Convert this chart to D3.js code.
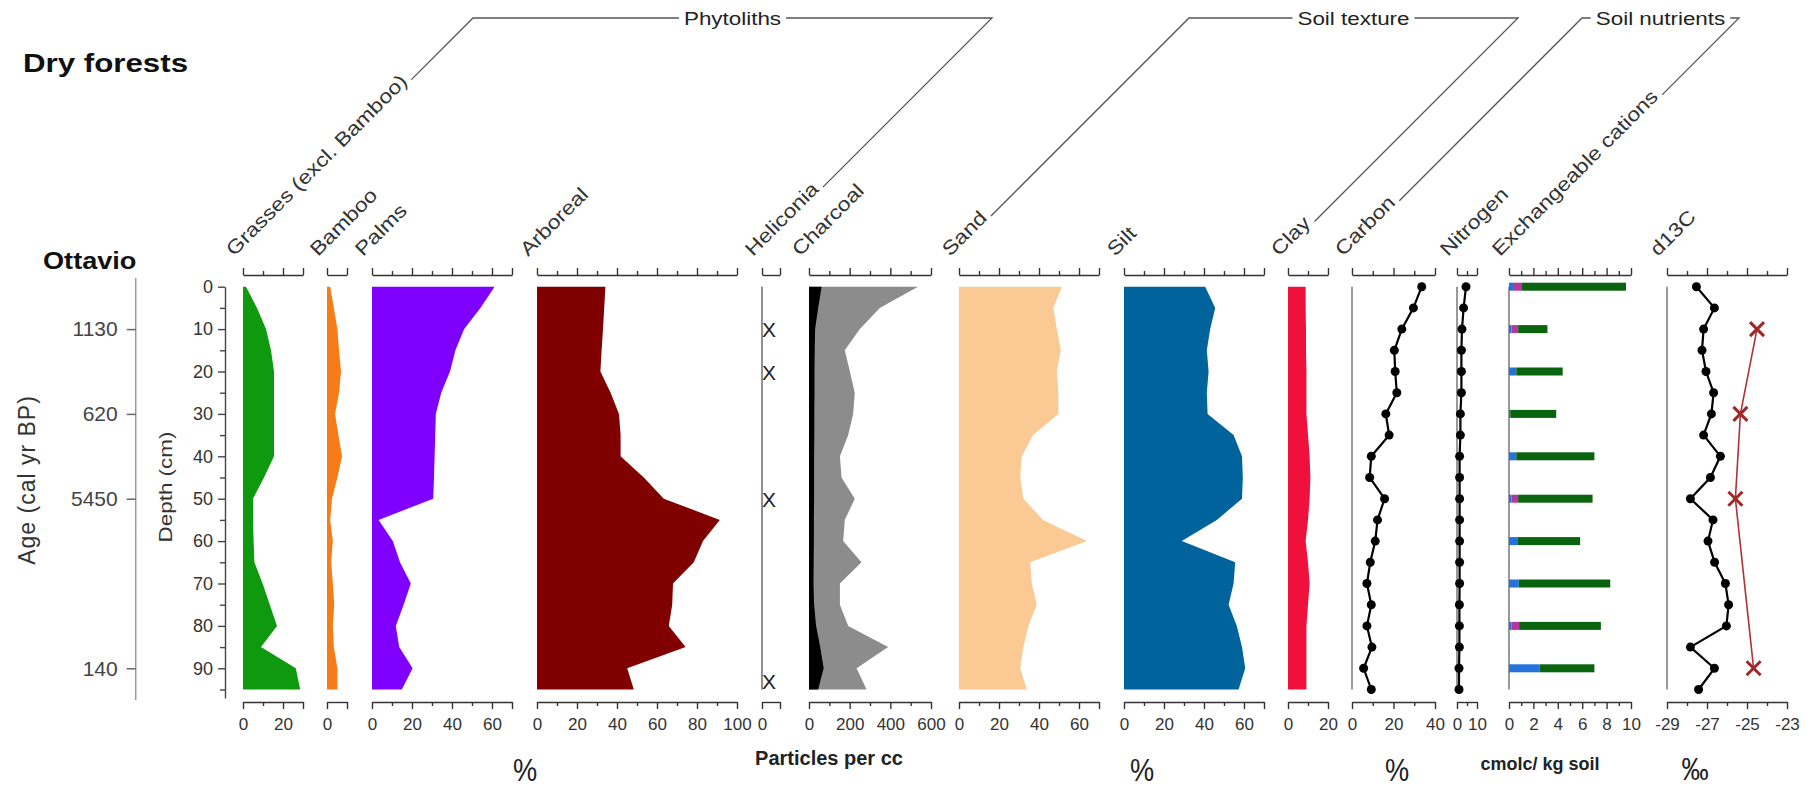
<!DOCTYPE html>
<html>
<head>
<meta charset="utf-8">
<script src="https://cdn.jsdelivr.net/npm/d3@7"></script>
<style>
  body { margin: 0; background: #fff; }
  text { font-family: "Liberation Sans", Arial, sans-serif; }
</style>
</head>
<body>
<script>
var W = 1818, H = 787;
var SX = 1.18; // the original figure is a bit wide, text is stretched

// ---- data ----
var depths = [0, 5, 10, 15, 20, 25, 30, 35, 40, 45, 50, 55, 60, 65, 70, 75, 80, 85, 90, 95];

var grasses  = [1.5, 7, 11.5, 14, 15.5, 15.5, 15.5, 15.5, 15.5, 10.5, 5, 5, 5.3, 5.7, 9.8, 13.4, 17, 9, 26.4, 28.6];
var bamboo   = [1.6, 3.4, 5.2, 6, 7, 6, 4, 5.7, 7.5, 5.2, 2.5, 1.6, 2.9, 2.1, 2.9, 3.6, 2.9, 3.4, 5.2, 5.2];
var palms    = [61.3, 54.2, 46.1, 41.7, 39, 34.6, 31.9, 31.6, 31.3, 31, 30.6, 3.3, 10.4, 14, 19.4, 15.8, 11.9, 13.6, 20.3, 14.9];
var arboreal = [34.2, 33.6, 33, 32.3, 31.7, 36.8, 41, 41.8, 41.8, 53.4, 63.4, 91.4, 83, 78.4, 68, 67.6, 65.9, 74.3, 45.1, 48.4];
var heliconiaDepths = [10, 20, 50, 93];
var charcoal      = [536, 348, 250, 176, 201, 225, 217, 193, 152, 160, 225, 176, 168, 258, 152, 152, 193, 389, 234, 283];
var charcoalLarge = [62, 45, 30, 28, 27, 27, 26, 26, 25, 25, 25, 24, 24, 23, 22, 25, 35, 55, 72, 45];
var sand = [51.4, 47.2, 48.9, 50.9, 48.9, 49.7, 49.7, 37, 31.4, 30.6, 32.2, 42, 63.9, 35.6, 36.4, 38.9, 34.7, 32.2, 30.6, 33.9];
var silt = [40.6, 45.6, 43.1, 41.4, 42.3, 41.4, 41.8, 54.8, 59, 59.4, 59, 46.4, 28.9, 55.6, 54.8, 52.3, 56.4, 59, 60.6, 57.3];
var clay = [8.8, 8.8, 9, 9, 9.2, 9.2, 9.2, 10, 10.8, 11.2, 10.8, 10, 8.8, 10, 10.8, 10, 9.2, 9.2, 9.2, 9.2];
var carbon   = [33.6, 29.6, 24.0, 20.4, 20.8, 21.6, 16.3, 17.9, 9.3, 8.5, 15.7, 12.3, 11.2, 8.8, 7.2, 9.3, 7.2, 9.6, 5.6, 9.3];
var nitrogen = [4.5, 3.3, 2.5, 2.2, 2.2, 2.2, 1.7, 1.7, 1.3, 1.3, 1.3, 1.3, 1.3, 1.3, 1.3, 1.2, 1.2, 1.2, 1.0, 1.0];
var cationDepths = [0, 10, 20, 30, 40, 50, 60, 70, 80, 90];
var cationBlue   = [0.33, 0.2, 0.6, 0.1, 0.6, 0.2, 0.68, 0.8, 0.2, 2.5];
var cationPink   = [0.68, 0.55, 0, 0, 0, 0.55, 0, 0, 0.63, 0];
var cationGreen  = [8.58, 2.4, 3.8, 3.77, 6.4, 6.1, 5.15, 7.5, 6.7, 4.5];
var d13c = [-27.53, -26.63, -27.17, -27.25, -27.05, -26.67, -26.78, -27.17, -26.33, -26.83, -27.83, -26.7, -26.95, -26.62, -26.08, -25.92, -26.03, -27.83, -26.63, -27.42];
var d13cRedDepths = [10, 30, 50, 90];
var d13cRed       = [-24.5, -25.33, -25.58, -24.67];

var ageDepths = [10, 30, 50, 90];
var ageLabels = ['1130', '620', '5450', '140'];

// ---- layout ----
var panels = [
  {id: 'grasses',   name: 'Grasses (excl. Bamboo)', x0: 243,  domain: [0, 30],   w: 60,  ticks: [0, 10, 20, 30], labels: [0, 20]},
  {id: 'bamboo',    name: 'Bamboo',    x0: 327,  domain: [0, 10],   w: 20,  ticks: [0, 10], labels: [0]},
  {id: 'palms',     name: 'Palms',     x0: 372,  domain: [0, 70],   w: 140, ticks: d3.range(0, 71, 10), labels: [0, 20, 40, 60]},
  {id: 'arboreal',  name: 'Arboreal',  x0: 537,  domain: [0, 100],  w: 200, ticks: d3.range(0, 101, 10), labels: [0, 20, 40, 60, 80, 100]},
  {id: 'heliconia', name: 'Heliconia', x0: 762,  domain: [0, 10],   w: 18,  ticks: [0, 10], labels: [0]},
  {id: 'charcoal',  name: 'Charcoal',  x0: 809,  domain: [0, 600],  w: 122, ticks: d3.range(0, 601, 100), labels: [0, 200, 400, 600]},
  {id: 'sand',      name: 'Sand',      x0: 959,  domain: [0, 70],   w: 140, ticks: d3.range(0, 71, 10), labels: [0, 20, 40, 60]},
  {id: 'silt',      name: 'Silt',      x0: 1124, domain: [0, 70],   w: 140, ticks: d3.range(0, 71, 10), labels: [0, 20, 40, 60]},
  {id: 'clay',      name: 'Clay',      x0: 1288, domain: [0, 20],   w: 40,  ticks: [0, 10, 20], labels: [0, 20]},
  {id: 'carbon',    name: 'Carbon',    x0: 1352, domain: [0, 40],   w: 83,  ticks: d3.range(0, 41, 10), labels: [0, 20, 40]},
  {id: 'nitrogen',  name: 'Nitrogen',  x0: 1457, domain: [0, 10],   w: 20,  ticks: [0, 5, 10], labels: [0, 10]},
  {id: 'cations',   name: 'Exchangeable cations', x0: 1509, domain: [0, 10], w: 122, ticks: d3.range(0, 11, 1), labels: [0, 2, 4, 6, 8, 10]},
  {id: 'd13c',      name: 'd13C',      x0: 1667, domain: [-29, -23], w: 120, ticks: d3.range(-29, -22, 1), labels: [-29, -27, -25, -23]}
];
var groups = [
  {title: 'Phytoliths', from: 'grasses', to: 'heliconia'},
  {title: 'Soil texture', from: 'sand', to: 'clay'},
  {title: 'Soil nutrients', from: 'carbon', to: 'cations'}
];
var units = [
  {text: '%', x: 525, y: 781, size: 32, bold: false},
  {text: 'Particles per cc', x: 829, y: 765, size: 20, bold: true},
  {text: '%', x: 1142, y: 781, size: 32, bold: false},
  {text: '%', x: 1397, y: 781, size: 32, bold: false},
  {text: 'cmolc/ kg soil', x: 1540, y: 770, size: 18, bold: true},
  {text: '\u2030', x: 1695, y: 780, size: 32, bold: false}
];

var topAxisY = 275, bottomAxisY = 702;
var y = d3.scaleLinear().domain([0, 95]).range([286.7, 689.5]);

var svg = d3.select('body').append('svg').attr('width', W).attr('height', H);

var byId = {};
panels.forEach(function(p) {
  p.x = d3.scaleLinear().domain(p.domain).range([p.x0, p.x0 + p.w]);
  byId[p.id] = p;
});

function rows(vals) {
  return depths.map(function(d, i) { return {d: d, v: vals[i]}; });
}

function areaPanel(p, vals, color) {
  var area = d3.area()
    .x0(p.x(0))
    .x1(function(r) { return p.x(r.v); })
    .y(function(r) { return y(r.d); });
  svg.append('path').datum(rows(vals)).attr('d', area).attr('fill', color);
}

function zeroLine(p, color, width) {
  svg.append('line')
    .attr('x1', p.x(p.domain[0])).attr('x2', p.x(p.domain[0]))
    .attr('y1', y(0)).attr('y2', y(95))
    .attr('stroke', color).attr('stroke-width', width);
}

function dotLine(p, ds, vals, color) {
  var data = ds.map(function(d, i) { return {d: d, v: vals[i]}; });
  var line = d3.line().x(function(r) { return p.x(r.v); }).y(function(r) { return y(r.d); });
  svg.append('path').datum(data).attr('d', line)
    .attr('fill', 'none').attr('stroke', color).attr('stroke-width', 2.2);
  svg.selectAll(null).data(data).enter().append('circle')
    .attr('cx', function(r) { return p.x(r.v); })
    .attr('cy', function(r) { return y(r.d); })
    .attr('r', 4.5).attr('fill', color);
}

// ---- panels ----
areaPanel(byId.grasses, grasses, '#0f990f');
areaPanel(byId.bamboo, bamboo, '#f77b16');
areaPanel(byId.palms, palms, '#7f00ff');
areaPanel(byId.arboreal, arboreal, '#800000');
areaPanel(byId.charcoal, charcoal, '#8c8c8c');
areaPanel(byId.charcoal, charcoalLarge, '#000000');
areaPanel(byId.sand, sand, '#fbc994');
areaPanel(byId.silt, silt, '#00639b');
areaPanel(byId.clay, clay, '#f0103c');

// heliconia presence marks
zeroLine(byId.heliconia, '#222', 1);
svg.selectAll(null).data(heliconiaDepths).enter().append('text')
  .attr('x', byId.heliconia.x(0))
  .attr('y', function(d) { return y(d) + 8; })
  .attr('font-size', 21).attr('fill', '#222')
  .text('X');

zeroLine(byId.carbon, '#999', 2);
dotLine(byId.carbon, depths, carbon, '#000');
zeroLine(byId.nitrogen, '#999', 2);
dotLine(byId.nitrogen, depths, nitrogen, '#000');

// exchangeable cations, stacked bars
var cp = byId.cations;
zeroLine(cp, '#999', 2);
var cationRows = cationDepths.map(function(d, i) {
  return {d: d, blue: cationBlue[i], pink: cationPink[i], green: cationGreen[i]};
});
var stack = d3.stack().keys(['blue', 'pink', 'green'])(cationRows);
var cationColors = {blue: '#2472dc', pink: '#b8379e', green: '#0a640f'};
stack.forEach(function(layer) {
  svg.selectAll(null).data(layer).enter().append('rect')
    .attr('x', function(s) { return cp.x(s[0]); })
    .attr('width', function(s) { return cp.x(s[1]) - cp.x(s[0]); })
    .attr('y', function(s) { return y(s.data.d) - 4; })
    .attr('height', 8)
    .attr('fill', cationColors[layer.key]);
});

// d13C
var dp = byId.d13c;
zeroLine(dp, '#999', 2);
dotLine(dp, depths, d13c, '#000');
var redData = d13cRedDepths.map(function(d, i) { return {d: d, v: d13cRed[i]}; });
svg.append('path').datum(redData)
  .attr('d', d3.line().x(function(r) { return dp.x(r.v); }).y(function(r) { return y(r.d); }))
  .attr('fill', 'none').attr('stroke', '#b03333').attr('stroke-width', 1.6);
svg.selectAll(null).data(redData).enter().append('path')
  .attr('d', d3.symbol().type(d3.symbolX).size(130))
  .attr('transform', function(r) { return 'translate(' + dp.x(r.v) + ',' + y(r.d) + ')'; })
  .attr('fill', 'none').attr('stroke', '#a02828').attr('stroke-width', 3);

// ---- axes on each panel ----
panels.forEach(function(p) {
  var isMajor = function(d) { return p.labels.indexOf(d) >= 0 || d === p.domain[0] || d === p.domain[1]; };

  var top = svg.append('g').attr('transform', 'translate(0,' + topAxisY + ')')
    .call(d3.axisTop(p.x).tickValues(p.ticks).tickFormat('').tickSize(7).tickSizeOuter(0));
  top.selectAll('.tick line').attr('y2', function(d) { return isMajor(d) ? -7 : -4; });

  var bot = svg.append('g').attr('transform', 'translate(0,' + bottomAxisY + ')')
    .call(d3.axisBottom(p.x).tickValues(p.ticks)
      .tickFormat(function(d) { return p.labels.indexOf(d) >= 0 ? String(d) : ''; })
      .tickSize(7).tickSizeOuter(0).tickPadding(9));
  bot.selectAll('.tick line').attr('y2', function(d) { return isMajor(d) ? 7 : 4; });
  bot.attr('font-size', 17).attr('font-family', '"Liberation Sans", Arial, sans-serif');
  bot.selectAll('.tick text').attr('fill', '#333');

  [top, bot].forEach(function(g) {
    g.selectAll('.domain, .tick line').attr('stroke', '#333').attr('stroke-width', 1.4);
  });

  // rotated column label
  var ox = p.x0 - 9, oy = 257;
  var t = svg.append('text')
    .attr('transform', 'translate(' + ox + ',' + oy + ') rotate(-45) scale(' + SX + ',1)')
    .attr('font-size', 19.5).attr('fill', '#333')
    .text(p.name);
  var len = t.node().getComputedTextLength() * SX;
  p.endX = ox + len * Math.SQRT1_2;
  p.endY = oy - len * Math.SQRT1_2;
});

// ---- group brackets ----
var bracketY = 18;
groups.forEach(function(g) {
  var a = byId[g.from], b = byId[g.to];
  var ax = a.endX + 3, ay = a.endY - 3;
  var bx = b.endX + 3, by = b.endY - 3;
  var leftTop = ax + (ay - bracketY);
  var rightTop = bx + (by - bracketY);
  var mid = (leftTop + rightTop) / 2;
  var t = svg.append('text')
    .attr('transform', 'translate(' + mid + ',' + (bracketY + 7) + ') scale(' + SX + ',1)')
    .attr('text-anchor', 'middle').attr('font-size', 19).attr('fill', '#222')
    .text(g.title);
  var half = t.node().getComputedTextLength() * SX / 2 + 5;
  var pts1 = [[ax, ay], [leftTop, bracketY], [mid - half, bracketY]];
  var pts2 = [[mid + half, bracketY], [rightTop, bracketY], [bx, by]];
  [pts1, pts2].forEach(function(pts) {
    svg.append('path').attr('d', d3.line()(pts))
      .attr('fill', 'none').attr('stroke', '#555').attr('stroke-width', 1.3);
  });
});

// ---- depth axis ----
var yAxisScale = d3.scaleLinear().domain([0, 97]).range([y(0), y(97)]);
var depthAxis = svg.append('g').attr('transform', 'translate(225,0)')
  .call(d3.axisLeft(yAxisScale).tickValues(d3.range(0, 96, 5))
    .tickFormat(function(d) { return d % 10 === 0 ? d : ''; })
    .tickSize(7).tickSizeOuter(0).tickPadding(5));
depthAxis.selectAll('.tick line').attr('x2', function(d) { return d % 10 === 0 ? -7 : -5; });
depthAxis.selectAll('.domain, .tick line').attr('stroke', '#444').attr('stroke-width', 1.4);
depthAxis.attr('font-size', 18).attr('font-family', '"Liberation Sans", Arial, sans-serif');
depthAxis.selectAll('.tick text').attr('fill', '#333');

svg.append('text')
  .attr('transform', 'translate(172,487) rotate(-90) scale(' + SX + ',1)')
  .attr('text-anchor', 'middle').attr('font-size', 19).attr('fill', '#333')
  .text('Depth (cm)');

// ---- age axis ----
svg.append('line').attr('x1', 135.7).attr('x2', 135.7).attr('y1', 278).attr('y2', 700)
  .attr('stroke', '#999').attr('stroke-width', 1.5);
var ageAxis = svg.append('g').attr('transform', 'translate(135.7,0)')
  .call(d3.axisLeft(y).tickValues(ageDepths)
    .tickFormat(function(d, i) { return ageLabels[i]; })
    .tickSize(9).tickPadding(9));
ageAxis.select('.domain').remove();
ageAxis.selectAll('.tick line').attr('stroke', '#666').attr('stroke-width', 1.5);
ageAxis.attr('font-size', 21).attr('font-family', '"Liberation Sans", Arial, sans-serif');
ageAxis.selectAll('.tick text').attr('fill', '#444');

svg.append('text')
  .attr('transform', 'translate(35,480) rotate(-90)')
  .attr('text-anchor', 'middle').attr('font-size', 23).attr('fill', '#333')
  .attr('letter-spacing', 1)
  .text('Age (cal yr BP)');

// ---- titles ----
svg.append('text')
  .attr('transform', 'translate(23,72) scale(' + SX + ',1)')
  .attr('font-size', 26.5).attr('font-weight', 'bold').attr('fill', '#111')
  .text('Dry forests');
svg.append('text')
  .attr('transform', 'translate(43,269) scale(' + SX + ',1)')
  .attr('font-size', 23).attr('font-weight', 'bold').attr('fill', '#111')
  .text('Ottavio');

// ---- unit labels ----
units.forEach(function(u) {
  svg.append('text')
    .attr('transform', 'translate(' + u.x + ',' + u.y + ')' + (u.bold ? '' : ' scale(0.85,1)'))
    .attr('text-anchor', 'middle')
    .attr('font-size', u.size)
    .attr('font-weight', u.bold ? 'bold' : 'normal')
    .attr('fill', '#222')
    .text(u.text);
});
</script>
</body>
</html>
